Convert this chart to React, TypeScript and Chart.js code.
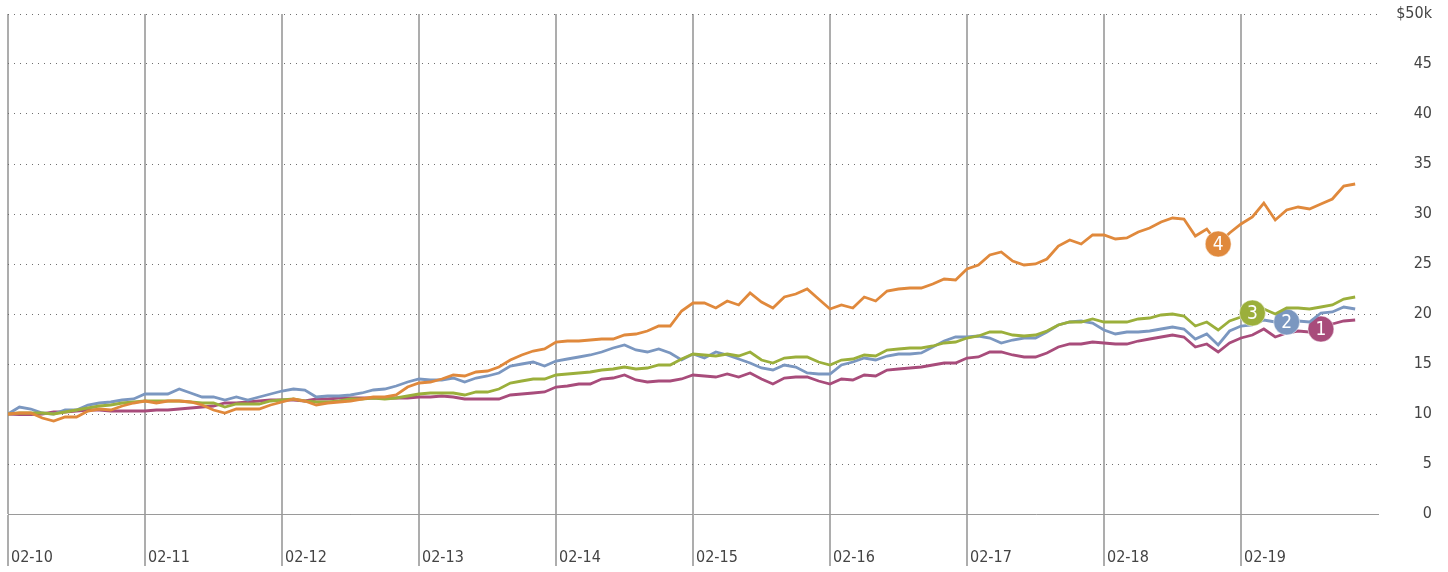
import React, { useEffect, useRef } from 'react';
import { Chart, registerables } from 'chart.js';

Chart.register(...registerables);

// ---- data ----
const dayLabels = ['02-10', '02-11', '02-12', '02-13', '02-14', '02-15', '02-16', '02-17', '02-18', '02-19'];
const pointsPerDay = 12;
const xMax = 120;
const yTicks = [0, 5, 10, 15, 20, 25, 30, 35, 40, 45, 50];

const seriesNames = ['1', '2', '3', '4'];

// series 1 (purple)
const seriesOne = [
  10.0, 9.95, 9.95, 10.0, 10.2, 10.2, 10.3, 10.4, 10.4, 10.3, 10.3, 10.3, 10.3, 10.4, 10.4, 10.5, 10.6, 10.7, 10.8, 11.1, 11.1, 11.2, 11.3, 11.4, 11.4,
  11.4, 11.3, 11.5, 11.5, 11.6, 11.6, 11.6, 11.6, 11.6, 11.6, 11.6, 11.7, 11.7, 11.8, 11.7, 11.5, 11.5, 11.5, 11.5, 11.9, 12.0, 12.1, 12.2, 12.7, 12.8,
  13.0, 13.0, 13.5, 13.6, 13.9, 13.4, 13.2, 13.3, 13.3, 13.5, 13.9, 13.8, 13.7, 14.0, 13.7, 14.1, 13.5, 13.0, 13.6, 13.7, 13.7, 13.3, 13.0, 13.5,
  13.4, 13.9, 13.8, 14.4, 14.5, 14.6, 14.7, 14.9, 15.1, 15.1, 15.6, 15.7, 16.2, 16.2, 15.9, 15.7, 15.7, 16.1, 16.7, 17.0, 17.0, 17.2, 17.1,
  17.0, 17.0, 17.3, 17.5, 17.7, 17.9, 17.7, 16.7, 17.0, 16.2, 17.1, 17.6, 17.9, 18.5, 17.7, 18.1, 18.3, 18.2, 18.5, 19.0, 19.3, 19.4,
];

// series 2 (blue)
const seriesTwo = [
  10.0, 10.7, 10.5, 10.1, 10.0, 10.4, 10.4, 10.9, 11.1, 11.2, 11.4, 11.5, 12.0, 12.0, 12.0, 12.5, 12.1, 11.7, 11.7, 11.4, 11.7, 11.4, 11.7, 12.0, 12.3,
  12.5, 12.4, 11.7, 11.8, 11.8, 11.9, 12.1, 12.4, 12.5, 12.8, 13.2, 13.5, 13.4, 13.4, 13.6, 13.2, 13.6, 13.8, 14.1, 14.8, 15.0, 15.2, 14.8, 15.3, 15.5,
  15.7, 15.9, 16.2, 16.6, 16.9, 16.4, 16.2, 16.5, 16.1, 15.4, 16.0, 15.6, 16.2, 15.9, 15.5, 15.1, 14.6, 14.4, 14.9, 14.7, 14.1, 14.0, 14.0, 14.9,
  15.2, 15.6, 15.4, 15.8, 16.0, 16.0, 16.1, 16.7, 17.3, 17.7, 17.7, 17.8, 17.6, 17.1, 17.4, 17.6, 17.6, 18.2, 18.9, 19.2, 19.3, 19.1, 18.4,
  18.0, 18.2, 18.2, 18.3, 18.5, 18.7, 18.5, 17.5, 18.0, 16.9, 18.3, 18.8, 18.9, 19.4, 19.2, 19.2, 19.3, 19.2, 20.1, 20.2, 20.7, 20.5,
];

// series 3 (green)
const seriesThree = [
  10.0, 10.1, 10.1, 10.1, 10.0, 10.2, 10.4, 10.6, 10.8, 10.9, 11.1, 11.2, 11.3, 11.3, 11.3, 11.3, 11.2, 11.1, 11.1, 10.7, 11.0, 11.0, 11.0, 11.3, 11.4,
  11.5, 11.3, 11.2, 11.2, 11.3, 11.5, 11.5, 11.6, 11.5, 11.6, 11.8, 12.0, 12.1, 12.1, 12.1, 11.9, 12.2, 12.2, 12.5, 13.1, 13.3, 13.5, 13.5, 13.9, 14.0,
  14.1, 14.2, 14.4, 14.5, 14.7, 14.5, 14.6, 14.9, 14.9, 15.5, 16.0, 15.9, 15.8, 16.0, 15.8, 16.2, 15.4, 15.1, 15.6, 15.7, 15.7, 15.2, 14.9, 15.4,
  15.5, 15.9, 15.8, 16.4, 16.5, 16.6, 16.6, 16.8, 17.1, 17.2, 17.6, 17.8, 18.2, 18.2, 17.9, 17.8, 17.9, 18.3, 18.9, 19.2, 19.2, 19.5, 19.2,
  19.2, 19.2, 19.5, 19.6, 19.9, 20.0, 19.8, 18.8, 19.2, 18.4, 19.3, 19.7, 20.1, 20.5, 20.0, 20.6, 20.6, 20.5, 20.7, 20.9, 21.5, 21.7,
];

// series 4 (orange)
const seriesFour = [
  10.0, 10.1, 10.1, 9.6, 9.3, 9.7, 9.7, 10.3, 10.5, 10.4, 10.8, 11.1, 11.3, 11.1, 11.3, 11.3, 11.2, 10.9, 10.4, 10.1, 10.5, 10.5, 10.5, 10.9, 11.2,
  11.5, 11.3, 10.9, 11.1, 11.2, 11.3, 11.5, 11.7, 11.7, 11.9, 12.7, 13.1, 13.2, 13.5, 13.9, 13.8, 14.2, 14.3, 14.7, 15.4, 15.9, 16.3, 16.5, 17.2, 17.3,
  17.3, 17.4, 17.5, 17.5, 17.9, 18.0, 18.3, 18.8, 18.8, 20.3, 21.1, 21.1, 20.6, 21.3, 20.9, 22.1, 21.2, 20.6, 21.7, 22.0, 22.5, 21.5, 20.5, 20.9,
  20.6, 21.7, 21.3, 22.3, 22.5, 22.6, 22.6, 23.0, 23.5, 23.4, 24.5, 24.9, 25.9, 26.2, 25.3, 24.9, 25.0, 25.5, 26.8, 27.4, 27.0, 27.9, 27.9,
  27.5, 27.6, 28.2, 28.6, 29.2, 29.6, 29.5, 27.8, 28.5, 27.0, 28.1, 29.0, 29.7, 31.1, 29.4, 30.4, 30.7, 30.5, 31.0, 31.5, 32.8, 33.0,
];

// index of the numbered marker on each series (1..4)
const markerIndex = [115, 112, 109, 106];
const seriesColors = ['#A84C7B', '#7B97C0', '#9BAF3B', '#E0893C'];

const FONT = "'Liberation Sans Narrow', 'DejaVu Sans Condensed', 'Roboto Condensed', 'Arial Narrow', sans-serif";

const markerLabelPlugin = {
  id: 'markerLabels',
  afterDatasetsDraw(chart: any) {
    const ctx = chart.ctx;
    chart.data.datasets.forEach((ds: any, di: number) => {
      const meta = chart.getDatasetMeta(di);
      const el = meta.data[ds.markerAt];
      if (!el) return;
      ctx.save();
      ctx.fillStyle = '#ffffff';
      ctx.font = `19px ${FONT}`;
      ctx.textAlign = 'center';
      ctx.textBaseline = 'middle';
      ctx.fillText(ds.label, el.x, el.y + 1);
      ctx.restore();
    });
  },
};

export default function App() {
  const canvasRef = useRef<HTMLCanvasElement | null>(null);

  useEffect(() => {
    document.body.style.margin = '0';
    const canvas = canvasRef.current;
    if (!canvas) return;

    const all = [seriesOne, seriesTwo, seriesThree, seriesFour];
    // draw order: series 4 on top
    const order = [3, 2, 1, 0];
    const datasets = order.map((k) => {
      const m = markerIndex[k];
      return {
        label: seriesNames[k],
        markerAt: m,
        data: all[k].map((v, i) => ({ x: i, y: v })),
        borderColor: seriesColors[k],
        backgroundColor: seriesColors[k],
        borderWidth: 2.8,
        tension: 0,
        fill: false,
        pointRadius: (c: any) => (c.dataIndex === m ? 13 : 0),
        pointHoverRadius: (c: any) => (c.dataIndex === m ? 13 : 0),
        pointBackgroundColor: seriesColors[k],
        pointBorderColor: 'rgba(255,255,255,0.5)',
        pointBorderWidth: 1,
      };
    });

    const chart = new Chart(canvas, {
      type: 'line',
      data: { datasets },
      plugins: [markerLabelPlugin],
      options: {
        animation: false,
        responsive: true,
        maintainAspectRatio: false,
        events: [],
        layout: { padding: { left: 8, top: 14, right: 16, bottom: 0 } },
        plugins: {
          legend: { display: false },
          tooltip: { enabled: false },
        },
        scales: {
          x: {
            type: 'linear',
            min: 0,
            max: xMax,
            ticks: {
              stepSize: pointsPerDay,
              autoSkip: false,
              maxRotation: 0,
              align: 'start',
              labelOffset: 3,
              padding: -18,
              color: '#444',
              font: { family: FONT, size: 16 },
              callback: (value: any) => {
                const d = Number(value) / pointsPerDay;
                return Number.isInteger(d) && d < dayLabels.length ? dayLabels[d] : '';
              },
            },
            grid: {
              drawOnChartArea: true,
              drawTicks: true,
              tickLength: 52,
              lineWidth: 2,
              tickWidth: 2,
              color: (c: any) => (c.tick && c.tick.value < xMax - 1 ? '#adadad' : 'rgba(0,0,0,0)'),
              tickColor: (c: any) => (c.tick && c.tick.value < xMax - 1 ? '#adadad' : 'rgba(0,0,0,0)'),
            },
            border: { display: true, color: '#9a9a9a', width: 1 },
            afterFit: (s: any) => {
              s.height = 58;
            },
          },
          y: {
            type: 'linear',
            position: 'right',
            min: 0,
            max: 50,
            afterBuildTicks: (s: any) => {
              s.ticks = yTicks.map((v) => ({ value: v }));
            },
            ticks: {
              crossAlign: 'far',
              padding: 0,
              color: '#444',
              font: { family: FONT, size: 16 },
              callback: (value: any) => (Number(value) === 50 ? '$50k' : String(value)),
            },
            grid: {
              drawTicks: true,
              tickLength: 18,
              tickColor: 'rgba(0,0,0,0)',
              color: '#6f6f6f',
              lineWidth: 1,
            },
            border: { display: false, dash: [1, 5] },
            afterFit: (s: any) => {
              s.width = 54;
            },
          },
        },
      },
    } as any);

    return () => {
      chart.destroy();
    };
  }, []);

  return (
    <div style={{ position: 'absolute', left: 0, top: 0, width: 1448, height: 572 }}>
      <canvas ref={canvasRef} />
    </div>
  );
}
